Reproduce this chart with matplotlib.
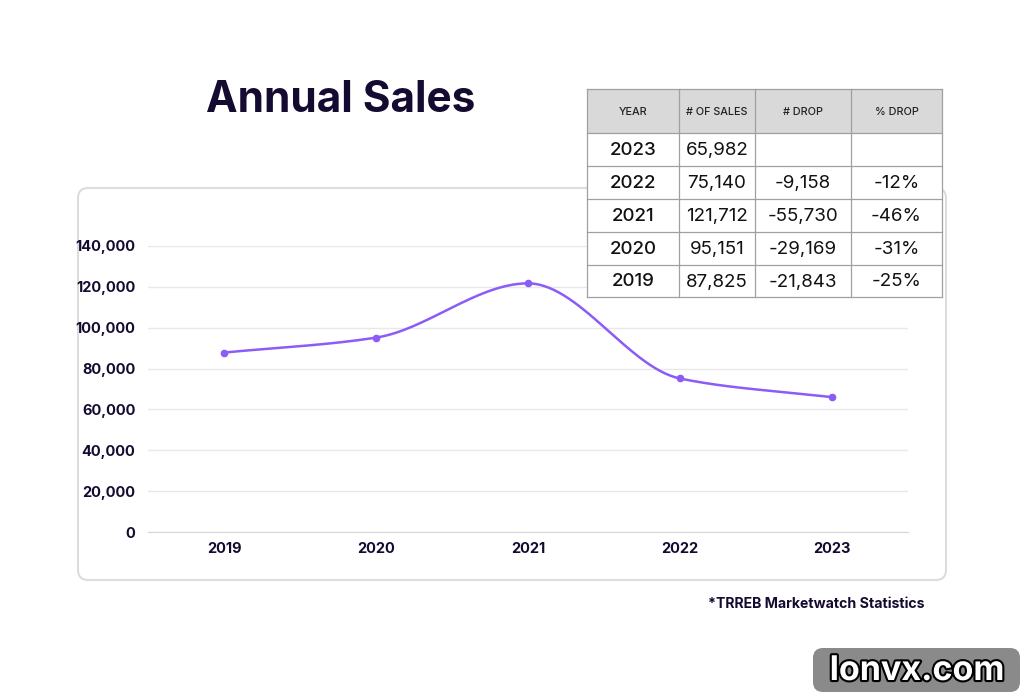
import numpy as np
import matplotlib
matplotlib.use("Agg")
from matplotlib import pyplot as plt
from matplotlib.patches import FancyBboxPatch, Rectangle
import matplotlib.patheffects as pe
from matplotlib.ticker import FuncFormatter

plt.rcParams['font.family'] = ['Inter', 'DejaVu Sans']

years = ['2019', '2020', '2021', '2022', '2023']
sales = [87825, 95151, 121712, 75140, 65982]

# table, newest first
tbl_header = ['YEAR', '# OF SALES', '# DROP', '% DROP']
tbl_years = ['2023', '2022', '2021', '2020', '2019']
tbl_sales = ['65,982', '75,140', '121,712', '95,151', '87,825']
tbl_drop = ['', '-9,158', '-55,730', '-29,169', '-21,843']
tbl_pct = ['', '-12%', '-46%', '-31%', '-25%']

dark = '#150a30'
purple = '#8b5cf6'

W, H = 1024, 698
fig = plt.figure(figsize=(W / 100, H / 100), dpi=100)
fig.patch.set_facecolor('white')

# background layer (card)
bg = fig.add_axes([0, 0, 1, 1], zorder=0)
bg.set_xlim(0, W); bg.set_ylim(H, 0); bg.axis('off')
bg.add_patch(FancyBboxPatch((78, 188), 868, 392, boxstyle='round,pad=0,rounding_size=10',
                            facecolor='white', edgecolor='#dcdcdc', linewidth=1.5))

# chart
ax = fig.add_axes([148 / W, (H - 532) / H, 760 / W, (532 - 246) / H], zorder=1)
ax.patch.set_alpha(0)


def monotone(x, y, n=60):
    # Fritsch-Carlson monotone cubic, only for drawing the smooth curve
    x = np.asarray(x, float); y = np.asarray(y, float)
    h = np.diff(x); d = np.diff(y) / h
    m = np.zeros_like(y)
    m[0], m[-1] = d[0], d[-1]
    for k in range(1, len(y) - 1):
        if d[k - 1] * d[k] > 0:
            m[k] = 2 / (1 / d[k - 1] + 1 / d[k])
    xs, ys = [], []
    for k in range(len(x) - 1):
        t = np.linspace(0, 1, n)
        h00 = 2 * t**3 - 3 * t**2 + 1
        h10 = t**3 - 2 * t**2 + t
        h01 = -2 * t**3 + 3 * t**2
        h11 = t**3 - t**2
        xs.append(x[k] + t * h[k])
        ys.append(h00 * y[k] + h10 * h[k] * m[k] + h01 * y[k + 1] + h11 * h[k] * m[k + 1])
    return np.concatenate(xs), np.concatenate(ys)


xi = np.arange(len(years))
cx, cy = monotone(xi, sales)
ax.plot(cx, cy, color=purple, linewidth=1.8, zorder=3)
ax.plot(xi, sales, 'o', color=purple, markersize=4.5, zorder=4)

ax.set_xlim(-0.5, len(years) - 0.5)
ax.set_ylim(0, 140000)
ax.set_yticks(np.arange(0, 140001, 20000))
ax.yaxis.set_major_formatter(FuncFormatter(lambda v, p: f'{int(v):,}'))
ax.set_xticks(xi)
ax.set_xticklabels(years)
ax.grid(axis='y', color='#e8e8e8', linewidth=1)
ax.set_axisbelow(True)
for s in ['top', 'right', 'left']:
    ax.spines[s].set_visible(False)
ax.spines['bottom'].set_color('#d6d6d6')
ax.tick_params(axis='y', length=0, pad=9, labelsize=10.5, labelcolor=dark)
ax.tick_params(axis='x', length=0, pad=7.5, labelsize=10.5, labelcolor=dark)
for lab in ax.get_xticklabels() + ax.get_yticklabels():
    lab.set_fontweight('bold')
ax.set_ylim(0, 140000)

# foreground layer: title, table, notes
fg = fig.add_axes([0, 0, 1, 1], zorder=2)
fg.set_xlim(0, W); fg.set_ylim(H, 0); fg.axis('off')
fg.patch.set_alpha(0)

fg.text(341, 101, 'Annual Sales', ha='center', va='center', fontsize=30.5,
        fontweight='bold', color=dark)

col_x = [587, 679, 755, 851, 942]
row_y = [89, 133, 166, 199, 232, 265, 297]
fg.add_patch(Rectangle((col_x[0], row_y[0]), col_x[-1] - col_x[0], row_y[-1] - row_y[0],
                       facecolor='white', edgecolor='none'))
fg.add_patch(Rectangle((col_x[0], row_y[0]), col_x[-1] - col_x[0], row_y[1] - row_y[0],
                       facecolor='#d9d9d9', edgecolor='none'))
for xv in col_x:
    fg.plot([xv, xv], [row_y[0], row_y[-1]], color='#a0a0a0', linewidth=0.9)
for yv in row_y:
    fg.plot([col_x[0], col_x[-1]], [yv, yv], color='#a0a0a0', linewidth=0.9)

for j, t in enumerate(tbl_header):
    fg.text((col_x[j] + col_x[j + 1]) / 2, (row_y[0] + row_y[1]) / 2 + 1, t,
            ha='center', va='center', fontsize=7.8, fontweight='medium', color='#222222')
cols = [tbl_years, tbl_sales, tbl_drop, tbl_pct]
for j, col in enumerate(cols):
    for i, t in enumerate(col):
        fg.text((col_x[j] + col_x[j + 1]) / 2, (row_y[i + 1] + row_y[i + 2]) / 2 + 1, t,
                ha='center', va='center', fontsize=13.5, color='#111111',
                fontweight='medium' if j == 0 else 'normal')

fg.text(925, 604, '*TRREB Marketwatch Statistics', ha='right', va='center',
        fontsize=10.2, fontweight='bold', color=dark)

fg.add_patch(FancyBboxPatch((813, 648), 207, 44, boxstyle='round,pad=0,rounding_size=10',
                            facecolor='#8a8a8a', edgecolor='none'))
fg.text(917, 671, 'lonvx.com', ha='center', va='center', fontsize=24.5, fontweight='bold',
        color='white', path_effects=[pe.withStroke(linewidth=3, foreground='black')])

fig.savefig('out.png', dpi=100, facecolor='white')
